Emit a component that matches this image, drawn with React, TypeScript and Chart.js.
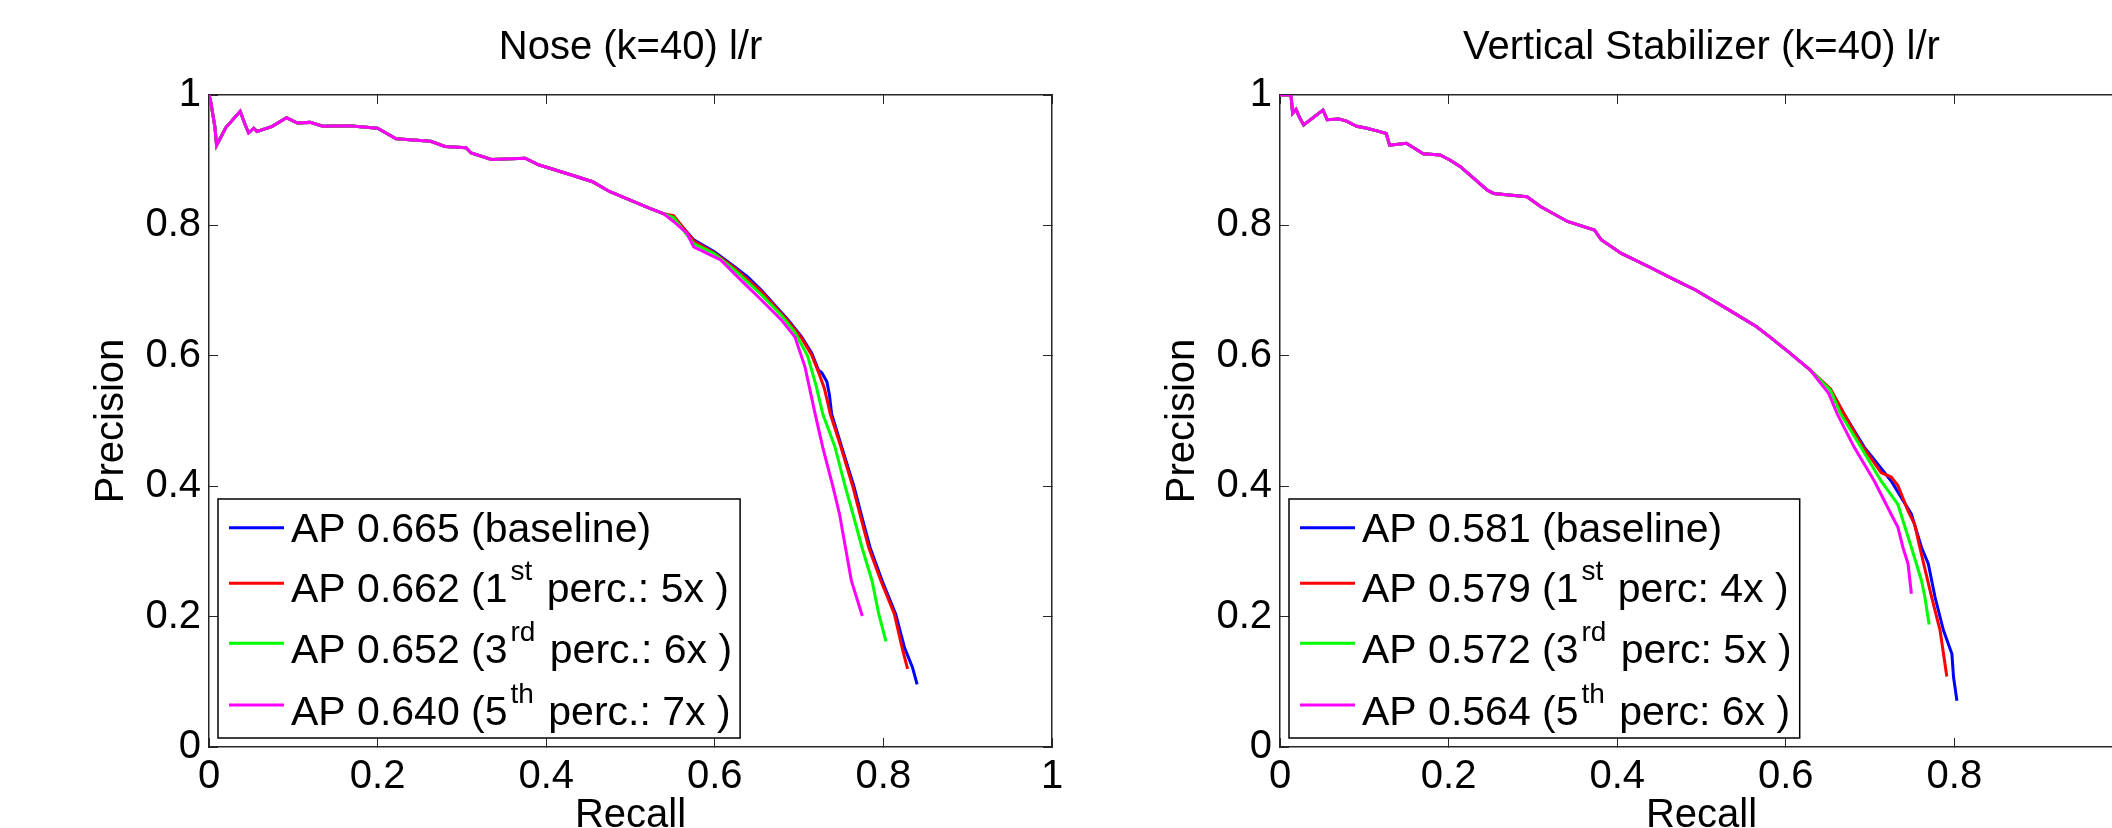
import React, { useEffect, useRef } from 'react';
import { Chart, registerables } from 'chart.js';

Chart.register(...registerables);

const FONT = "'Liberation Sans', Arial, Helvetica, sans-serif";

// ---------- shared axis ticks ----------
const axisMin = 0;
const axisMax = 1;
const axisStep = 0.2;

// ---------- colours ----------
const seriesColors = ['#0000ff', '#ff0000', '#00ff00', '#ff00ff'];

// ---------- Nose (k=40) l/r ----------
const noseTitle = 'Nose (k=40) l/r';
const noseLabels = [
  'AP 0.665 (baseline)',
  'AP 0.662 (1^{st} perc.: 5x )',
  'AP 0.652 (3^{rd} perc.: 6x )',
  'AP 0.640 (5^{th} perc.: 7x )',
];

const noseBaselineRecall = [0, 0.002, 0.007, 0.009, 0.02, 0.037, 0.043, 0.047, 0.053, 0.057, 0.075, 0.092, 0.105, 0.12, 0.135, 0.166, 0.2, 0.222, 0.263, 0.28, 0.305, 0.311, 0.335, 0.375, 0.391, 0.431, 0.455, 0.475, 0.499, 0.523, 0.539, 0.551, 0.575, 0.599, 0.623, 0.639, 0.655, 0.671, 0.687, 0.703, 0.715, 0.723, 0.727, 0.733, 0.736, 0.7386, 0.7506, 0.765, 0.7746, 0.7842, 0.7985, 0.8145, 0.8249, 0.8345, 0.84];
const noseBaselinePrecision = [1.0, 0.99, 0.951, 0.923, 0.95, 0.975, 0.954, 0.942, 0.949, 0.944, 0.952, 0.965, 0.957, 0.958, 0.952, 0.953, 0.949, 0.933, 0.929, 0.921, 0.919, 0.911, 0.901, 0.903, 0.893, 0.877, 0.867, 0.852, 0.839, 0.826, 0.818, 0.813, 0.778, 0.76, 0.737, 0.721, 0.701, 0.678, 0.655, 0.629, 0.604, 0.578, 0.574, 0.56, 0.54, 0.511, 0.46, 0.4, 0.352, 0.306, 0.255, 0.204, 0.153, 0.122, 0.096];

const noseFirstRecall = [0, 0.002, 0.007, 0.009, 0.02, 0.037, 0.043, 0.047, 0.053, 0.057, 0.075, 0.092, 0.105, 0.12, 0.135, 0.166, 0.2, 0.222, 0.263, 0.28, 0.305, 0.311, 0.335, 0.375, 0.391, 0.431, 0.455, 0.475, 0.499, 0.523, 0.539, 0.551, 0.575, 0.599, 0.623, 0.655, 0.687, 0.703, 0.715, 0.723, 0.73, 0.737, 0.7496, 0.7636, 0.7732, 0.7826, 0.797, 0.813, 0.822, 0.8287];
const noseFirstPrecision = [1.0, 0.99, 0.951, 0.923, 0.95, 0.975, 0.954, 0.942, 0.949, 0.944, 0.952, 0.965, 0.957, 0.958, 0.952, 0.953, 0.949, 0.933, 0.929, 0.921, 0.919, 0.911, 0.901, 0.903, 0.893, 0.877, 0.867, 0.852, 0.839, 0.826, 0.818, 0.815, 0.776, 0.758, 0.735, 0.699, 0.653, 0.627, 0.601, 0.575, 0.55, 0.511, 0.46, 0.4, 0.352, 0.306, 0.255, 0.204, 0.153, 0.12];

const noseThirdRecall = [0, 0.002, 0.007, 0.009, 0.02, 0.037, 0.043, 0.047, 0.053, 0.057, 0.075, 0.092, 0.105, 0.12, 0.135, 0.166, 0.2, 0.222, 0.263, 0.28, 0.305, 0.311, 0.335, 0.375, 0.391, 0.431, 0.455, 0.475, 0.499, 0.523, 0.539, 0.551, 0.575, 0.599, 0.623, 0.655, 0.679, 0.695, 0.71, 0.72, 0.728, 0.7426, 0.7546, 0.765, 0.7746, 0.7865, 0.7945, 0.803];
const noseThirdPrecision = [1.0, 0.99, 0.951, 0.923, 0.95, 0.975, 0.954, 0.942, 0.949, 0.944, 0.952, 0.965, 0.957, 0.958, 0.952, 0.953, 0.949, 0.933, 0.929, 0.921, 0.919, 0.911, 0.901, 0.903, 0.893, 0.877, 0.867, 0.852, 0.839, 0.826, 0.818, 0.812, 0.772, 0.757, 0.732, 0.694, 0.662, 0.636, 0.6, 0.555, 0.511, 0.46, 0.4, 0.352, 0.306, 0.255, 0.204, 0.162];

const noseFifthRecall = [0, 0.002, 0.007, 0.009, 0.02, 0.037, 0.043, 0.047, 0.053, 0.057, 0.075, 0.092, 0.105, 0.12, 0.135, 0.166, 0.2, 0.222, 0.263, 0.28, 0.305, 0.311, 0.335, 0.375, 0.391, 0.431, 0.455, 0.475, 0.499, 0.523, 0.539, 0.551, 0.567, 0.575, 0.591, 0.607, 0.631, 0.655, 0.679, 0.695, 0.707, 0.719, 0.728, 0.74, 0.748, 0.755, 0.762, 0.775];
const noseFifthPrecision = [1.0, 0.99, 0.951, 0.923, 0.95, 0.975, 0.954, 0.942, 0.949, 0.944, 0.952, 0.965, 0.957, 0.958, 0.952, 0.953, 0.949, 0.933, 0.929, 0.921, 0.919, 0.911, 0.901, 0.903, 0.893, 0.877, 0.867, 0.852, 0.839, 0.826, 0.818, 0.806, 0.788, 0.767, 0.757, 0.747, 0.716, 0.686, 0.655, 0.629, 0.583, 0.511, 0.46, 0.4, 0.357, 0.306, 0.255, 0.201];

// ---------- Vertical Stabilizer (k=40) l/r ----------
const vsTitle = 'Vertical Stabilizer (k=40) l/r';
const vsLabels = [
  'AP 0.581 (baseline)',
  'AP 0.579 (1^{st} perc: 4x )',
  'AP 0.572 (3^{rd} perc: 5x )',
  'AP 0.564 (5^{th} perc: 6x )',
];

const vsBaselineRecall = [0, 0.013, 0.015, 0.019, 0.023, 0.028, 0.051, 0.056, 0.07, 0.079, 0.091, 0.103, 0.115, 0.126, 0.13, 0.15, 0.17, 0.19, 0.202, 0.214, 0.246, 0.2535, 0.293, 0.309, 0.341, 0.373, 0.381, 0.405, 0.437, 0.469, 0.493, 0.533, 0.565, 0.581, 0.605, 0.629, 0.653, 0.669, 0.693, 0.725, 0.749, 0.761, 0.769, 0.777, 0.787, 0.797, 0.799, 0.803];
const vsBaselinePrecision = [1, 1, 0.972, 0.978, 0.966, 0.954, 0.977, 0.962, 0.963, 0.96, 0.952, 0.949, 0.945, 0.941, 0.923, 0.926, 0.91, 0.908, 0.9, 0.89, 0.854, 0.849, 0.844, 0.829, 0.806, 0.793, 0.778, 0.757, 0.737, 0.716, 0.701, 0.67, 0.645, 0.629, 0.604, 0.578, 0.548, 0.511, 0.46, 0.408, 0.357, 0.306, 0.281, 0.23, 0.179, 0.143, 0.107, 0.071];

const vsFirstRecall = [0, 0.013, 0.015, 0.019, 0.023, 0.028, 0.051, 0.056, 0.07, 0.079, 0.091, 0.103, 0.115, 0.126, 0.13, 0.15, 0.17, 0.19, 0.202, 0.214, 0.246, 0.2535, 0.293, 0.309, 0.341, 0.373, 0.381, 0.405, 0.437, 0.469, 0.493, 0.533, 0.565, 0.581, 0.605, 0.629, 0.653, 0.669, 0.689, 0.713, 0.725, 0.733, 0.745, 0.753, 0.759, 0.773, 0.783, 0.791];
const vsFirstPrecision = [1, 1, 0.972, 0.978, 0.966, 0.954, 0.977, 0.962, 0.963, 0.96, 0.952, 0.949, 0.945, 0.941, 0.923, 0.926, 0.91, 0.908, 0.9, 0.89, 0.854, 0.849, 0.844, 0.829, 0.806, 0.793, 0.778, 0.757, 0.737, 0.716, 0.701, 0.67, 0.645, 0.629, 0.604, 0.578, 0.549, 0.511, 0.465, 0.421, 0.414, 0.401, 0.362, 0.341, 0.306, 0.23, 0.179, 0.108];

const vsThirdRecall = [0, 0.013, 0.015, 0.019, 0.023, 0.028, 0.051, 0.056, 0.07, 0.079, 0.091, 0.103, 0.115, 0.126, 0.13, 0.15, 0.17, 0.19, 0.202, 0.214, 0.246, 0.2535, 0.293, 0.309, 0.341, 0.373, 0.381, 0.405, 0.437, 0.469, 0.493, 0.533, 0.565, 0.581, 0.605, 0.629, 0.653, 0.665, 0.689, 0.713, 0.733, 0.749, 0.761, 0.765, 0.77];
const vsThirdPrecision = [1, 1, 0.972, 0.978, 0.966, 0.954, 0.977, 0.962, 0.963, 0.96, 0.952, 0.949, 0.945, 0.941, 0.923, 0.926, 0.91, 0.908, 0.9, 0.89, 0.854, 0.849, 0.844, 0.829, 0.806, 0.793, 0.778, 0.757, 0.737, 0.716, 0.701, 0.67, 0.645, 0.629, 0.604, 0.578, 0.547, 0.511, 0.46, 0.408, 0.372, 0.306, 0.255, 0.23, 0.188];

const vsFifthRecall = [0, 0.013, 0.015, 0.019, 0.023, 0.028, 0.051, 0.056, 0.07, 0.079, 0.091, 0.103, 0.115, 0.126, 0.13, 0.15, 0.17, 0.19, 0.202, 0.214, 0.246, 0.2535, 0.293, 0.309, 0.341, 0.373, 0.381, 0.405, 0.437, 0.469, 0.493, 0.533, 0.565, 0.581, 0.605, 0.629, 0.651, 0.661, 0.681, 0.705, 0.725, 0.733, 0.739, 0.745, 0.749];
const vsFifthPrecision = [1, 1, 0.972, 0.978, 0.966, 0.954, 0.977, 0.962, 0.963, 0.96, 0.952, 0.949, 0.945, 0.941, 0.923, 0.926, 0.91, 0.908, 0.9, 0.89, 0.854, 0.849, 0.844, 0.829, 0.806, 0.793, 0.778, 0.757, 0.737, 0.716, 0.701, 0.67, 0.645, 0.629, 0.604, 0.578, 0.542, 0.511, 0.46, 0.408, 0.357, 0.337, 0.306, 0.281, 0.235];

// ---------- helpers ----------
type Part = { text: string; sup: boolean };

function splitSup(label: string): Part[] {
  const parts: Part[] = [];
  const re = /\^\{([^}]*)\}/g;
  let last = 0;
  let m: RegExpExecArray | null;
  while ((m = re.exec(label)) !== null) {
    if (m.index > last) parts.push({ text: label.slice(last, m.index), sup: false });
    parts.push({ text: m[1], sup: true });
    last = m.index + m[0].length;
  }
  if (last < label.length) parts.push({ text: label.slice(last), sup: false });
  return parts;
}

function plainLabel(label: string): string {
  return label.replace(/\^\{([^}]*)\}/g, '$1');
}

function toPoints(rs: number[], ps: number[]) {
  return rs.map((r, i) => ({ x: r, y: ps[i] }));
}

function tickText(v: number | string): string {
  return String(Math.round(Number(v) * 10) / 10);
}

const MAIN_LEG_FONT = `41px ${FONT}`;
const SUP_LEG_FONT = `28px ${FONT}`;
const legendLineY = [28.7, 84.3, 144.3, 206];
const legendBaseY = [42.7, 103, 164, 226];

const matlabLegend = {
  id: 'matlabLegend',
  afterDraw(chart: any, _args: any, opts: any) {
    const { ctx, chartArea } = chart;
    const labels: string[] = opts.labels || [];
    const colors: string[] = opts.colors || [];
    const parts = labels.map(splitSup);
    ctx.save();
    const widthOf = (ps: Part[]) => {
      let w = 0;
      ps.forEach((p) => {
        ctx.font = p.sup ? SUP_LEG_FONT : MAIN_LEG_FONT;
        w += ctx.measureText(p.text).width + (p.sup ? 6 : 0);
      });
      return w;
    };
    const maxW = Math.max(...parts.map(widthOf));
    const left = chartArea.left + 9;
    const bottom = chartArea.bottom - 9;
    const top = bottom - 239;
    const textX = left + 73;
    const right = textX + maxW + 8;
    ctx.fillStyle = '#ffffff';
    ctx.fillRect(left, top, right - left, bottom - top);
    ctx.strokeStyle = '#000000';
    ctx.lineWidth = 1.5;
    ctx.strokeRect(left, top, right - left, bottom - top);
    parts.forEach((ps, i) => {
      ctx.strokeStyle = colors[i];
      ctx.lineWidth = 3;
      ctx.beginPath();
      ctx.moveTo(left + 11, top + legendLineY[i]);
      ctx.lineTo(left + 66, top + legendLineY[i]);
      ctx.stroke();
      let x = textX;
      ctx.fillStyle = '#000000';
      ctx.textBaseline = 'alphabetic';
      ctx.textAlign = 'left';
      ps.forEach((p) => {
        if (p.sup) {
          x += 3;
          ctx.font = SUP_LEG_FONT;
          ctx.fillText(p.text, x, top + legendBaseY[i] - 22);
          x += ctx.measureText(p.text).width + 3;
        } else {
          ctx.font = MAIN_LEG_FONT;
          ctx.fillText(p.text, x, top + legendBaseY[i]);
          x += ctx.measureText(p.text).width;
        }
      });
    });
    ctx.restore();
  },
};

const AXIS_COLOR = '#262626';

function makeConfig(title: string, labels: string[], series: { r: number[]; p: number[] }[]): any {
  const datasets = series.map((s, i) => ({
    label: plainLabel(labels[i]),
    data: toPoints(s.r, s.p),
    borderColor: seriesColors[i],
    backgroundColor: seriesColors[i],
    borderWidth: 3,
    pointRadius: 0,
    tension: 0,
    fill: false,
    order: series.length - 1 - i,
  }));
  const hiddenAxis = (position: string, size: number) => ({
    type: 'linear',
    position,
    min: axisMin,
    max: axisMax,
    ticks: { display: false, stepSize: axisStep },
    grid: { display: true, drawOnChartArea: false, drawTicks: true, tickLength: -9, color: AXIS_COLOR, lineWidth: 1 },
    border: { display: true, color: AXIS_COLOR, width: 1.5 },
    afterFit: (s: any) => {
      if (position === 'top') s.height = size;
      else s.width = size;
    },
  });
  return {
    type: 'line',
    data: { datasets },
    plugins: [matlabLegend],
    options: {
      responsive: false,
      animation: false,
      devicePixelRatio: 1,
      layout: { padding: { left: 0, right: 0, top: 0, bottom: 0 } },
      plugins: {
        legend: { display: false },
        tooltip: { enabled: false },
        title: {
          display: true,
          text: title,
          fullSize: false,
          color: '#000',
          font: { family: FONT, size: 40, weight: 'normal', lineHeight: 1.2 },
          padding: { top: 24, bottom: 23 },
        },
        matlabLegend: { labels, colors: seriesColors },
      },
      scales: {
        x: {
          type: 'linear',
          position: 'bottom',
          min: axisMin,
          max: axisMax,
          ticks: {
            stepSize: axisStep,
            font: { family: FONT, size: 40, lineHeight: 1.95 },
            color: '#000',
            padding: 0,
            maxRotation: 0,
            autoSkip: false,
            callback: tickText,
          },
          grid: { display: true, drawOnChartArea: false, drawTicks: true, tickLength: -9, color: AXIS_COLOR, lineWidth: 1 },
          border: { display: true, color: AXIS_COLOR, width: 1.5 },
          title: {
            display: true,
            text: 'Recall',
            color: '#000',
            font: { family: FONT, size: 40, lineHeight: 1.2 },
            padding: { top: 0, bottom: -11.5 },
          },
          afterFit: (s: any) => {
            s.height = 81;
          },
        },
        y: {
          type: 'linear',
          position: 'left',
          min: axisMin,
          max: axisMax,
          ticks: {
            stepSize: axisStep,
            font: { family: FONT, size: 40, lineHeight: 1.2 },
            color: '#000',
            padding: 17,
            autoSkip: false,
            callback: tickText,
          },
          grid: { display: true, drawOnChartArea: false, drawTicks: true, tickLength: -9, color: AXIS_COLOR, lineWidth: 1 },
          border: { display: true, color: AXIS_COLOR, width: 1.5 },
          title: {
            display: true,
            text: 'Precision',
            color: '#000',
            font: { family: FONT, size: 40, lineHeight: 1.2 },
            padding: { top: 87.5, bottom: 0 },
          },
          afterFit: (s: any) => {
            s.width = 209;
          },
        },
        x2: hiddenAxis('top', 0),
        y2: hiddenAxis('right', 18),
      },
    },
  };
}

function Panel(props: { left: number; title: string; labels: string[]; series: { r: number[]; p: number[] }[] }) {
  const ref = useRef<HTMLCanvasElement | null>(null);
  useEffect(() => {
    if (!ref.current) return;
    const chart = new Chart(ref.current, makeConfig(props.title, props.labels, props.series));
    return () => chart.destroy();
  }, []);
  return (
    <canvas
      ref={ref}
      width={1070}
      height={828}
      style={{ position: 'absolute', left: props.left, top: 0, width: 1070, height: 828 }}
    />
  );
}

export default function App() {
  const noseSeries = [
    { r: noseBaselineRecall, p: noseBaselinePrecision },
    { r: noseFirstRecall, p: noseFirstPrecision },
    { r: noseThirdRecall, p: noseThirdPrecision },
    { r: noseFifthRecall, p: noseFifthPrecision },
  ];
  const vsSeries = [
    { r: vsBaselineRecall, p: vsBaselinePrecision },
    { r: vsFirstRecall, p: vsFirstPrecision },
    { r: vsThirdRecall, p: vsThirdPrecision },
    { r: vsFifthRecall, p: vsFifthPrecision },
  ];
  return (
    <div
      style={{
        position: 'fixed',
        left: 0,
        top: 0,
        width: 2112,
        height: 828,
        overflow: 'hidden',
        background: '#ffffff',
      }}
    >
      <Panel left={0} title={noseTitle} labels={noseLabels} series={noseSeries} />
      <Panel left={1071} title={vsTitle} labels={vsLabels} series={vsSeries} />
    </div>
  );
}
